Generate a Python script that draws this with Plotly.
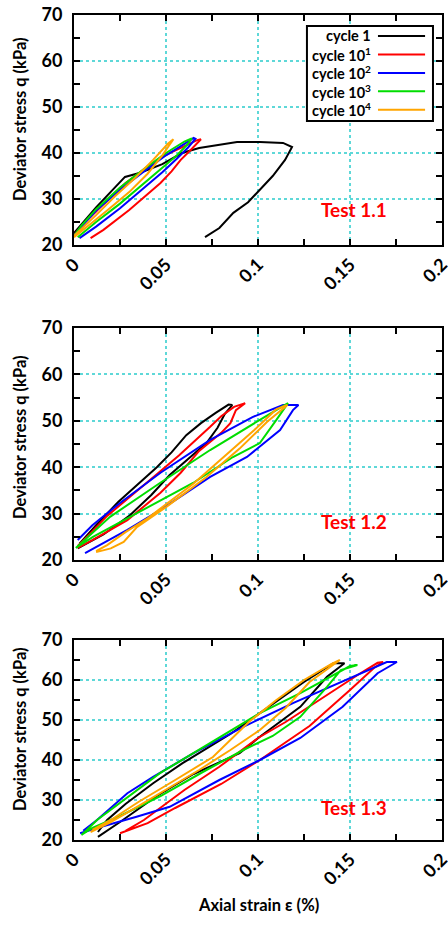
import plotly.graph_objects as go

# ---------------- data (axial strain %, deviator stress kPa) ----------------
cycle_names = ["cycle 1", "cycle 10<sup>1</sup>", "cycle 10<sup>2</sup>", "cycle 10<sup>3</sup>", "cycle 10<sup>4</sup>"]
cycle_colors = ["#000000", "#ff0000", "#0000ff", "#00dd00", "#ffa500"]
test_labels = ["Test 1.1", "Test 1.2", "Test 1.3"]
x_tick_vals = [0, 0.05, 0.1, 0.15, 0.2]
y_tick_vals = [20, 30, 40, 50, 60, 70]

# Test 1.1
t11_c1_x = [0.000, 0.012, 0.0277, 0.036, 0.048, 0.0587, 0.068, 0.078, 0.0886, 0.101, 0.1136, 0.1185, 0.1147, 0.108, 0.101, 0.0946, 0.0866, 0.079, 0.0712]
t11_c1_y = [22.6, 28.2, 34.8, 35.7, 37.6, 40.0, 41.1, 41.8, 42.4, 42.4, 42.2, 41.3, 38.5, 35.0, 32.0, 29.3, 27.0, 23.7, 21.7]
t11_c2_x = [0.009, 0.016, 0.030, 0.040, 0.047, 0.053, 0.058, 0.063, 0.067, 0.069, 0.067, 0.060, 0.050, 0.040, 0.028, 0.015, 0.005, 0.000]
t11_c2_y = [21.5, 23.3, 27.6, 31.0, 33.5, 36.0, 38.5, 40.5, 42.3, 43.0, 42.8, 41.5, 39.6, 37.0, 33.5, 28.5, 24.5, 22.2]
t11_c3_x = [0.003, 0.012, 0.025, 0.038, 0.048, 0.056, 0.062, 0.066, 0.065, 0.060, 0.050, 0.038, 0.025, 0.012, 0.004, 0.000]
t11_c3_y = [21.5, 24.0, 28.0, 32.5, 35.8, 38.8, 41.2, 43.1, 43.3, 42.0, 39.5, 36.0, 32.0, 27.5, 24.0, 22.0]
t11_c4_x = [0.002, 0.012, 0.025, 0.038, 0.048, 0.056, 0.062, 0.064, 0.060, 0.050, 0.038, 0.025, 0.012, 0.004, 0.000]
t11_c4_y = [21.7, 25.0, 29.0, 33.5, 36.8, 39.5, 42.0, 43.2, 42.5, 40.0, 36.5, 32.5, 27.8, 24.2, 22.0]
t11_c5_x = [0.000, 0.008, 0.018, 0.030, 0.040, 0.048, 0.054, 0.051, 0.043, 0.033, 0.022, 0.012, 0.004, 0.000]
t11_c5_y = [21.7, 24.2, 27.5, 31.5, 35.5, 39.5, 43.0, 42.0, 38.5, 34.5, 30.5, 26.5, 23.5, 22.0]

# Test 1.2
t12_c1_x = [0.002, 0.016, 0.030, 0.042, 0.052, 0.062, 0.072, 0.078, 0.082, 0.086, 0.084, 0.077, 0.069, 0.061, 0.053, 0.045, 0.035, 0.024, 0.012, 0.003]
t12_c1_y = [22.5, 25.5, 29.5, 34.0, 38.3, 41.8, 45.2, 48.5, 51.5, 53.4, 53.5, 51.7, 49.5, 46.9, 43.2, 40.0, 36.5, 32.5, 27.5, 23.5]
t12_c2_x = [0.002, 0.010, 0.029, 0.047, 0.058, 0.068, 0.080, 0.085, 0.088, 0.093, 0.087, 0.080, 0.074, 0.065, 0.057, 0.045, 0.030, 0.018, 0.009, 0.002]
t12_c2_y = [22.6, 24.3, 28.6, 34.5, 38.8, 43.5, 47.4, 49.5, 52.3, 53.8, 53.0, 51.0, 48.7, 45.5, 42.5, 38.5, 33.6, 29.5, 25.8, 23.0]
t12_c3_x = [0.006, 0.029, 0.047, 0.074, 0.094, 0.101, 0.112, 0.119, 0.122, 0.1136, 0.097, 0.074, 0.047, 0.025, 0.010, 0.002]
t12_c3_y = [21.5, 26.5, 30.8, 37.9, 42.2, 44.4, 48.0, 52.3, 53.4, 53.4, 50.8, 45.9, 38.8, 32.3, 27.5, 24.3]
t12_c4_x = [0.001, 0.0103, 0.0375, 0.0647, 0.0864, 0.101, 0.110, 0.1163, 0.101, 0.074, 0.0467, 0.0196, 0.001]
t12_c4_y = [22.6, 25.0, 30.8, 36.6, 42.2, 45.2, 50.2, 53.8, 50.2, 43.7, 36.6, 29.3, 22.6]
t12_c5_x = [0.012, 0.020, 0.027, 0.034, 0.050, 0.072, 0.090, 0.105, 0.116, 0.110, 0.098, 0.082, 0.065, 0.050, 0.040, 0.028, 0.018, 0.012]
t12_c5_y = [21.7, 22.5, 23.9, 27.0, 31.4, 37.9, 44.0, 49.8, 53.4, 52.5, 48.0, 42.5, 36.5, 32.0, 29.0, 26.0, 23.2, 21.9]

# Test 1.3
t13_c1_x = [0.013, 0.025, 0.045, 0.065, 0.090, 0.101, 0.123, 0.1375, 0.147, 0.141, 0.125, 0.105, 0.085, 0.059, 0.043, 0.028, 0.018, 0.013]
t13_c1_y = [20.8, 24.5, 31.0, 36.5, 41.7, 45.8, 53.3, 60.8, 64.2, 64.2, 59.5, 53.0, 46.5, 39.2, 34.2, 29.0, 25.0, 22.0]
t13_c2_x = [0.025, 0.040, 0.055, 0.080, 0.101, 0.128, 0.150, 0.163, 0.168, 0.165, 0.155, 0.135, 0.115, 0.100, 0.079, 0.060, 0.048, 0.038, 0.028]
t13_c2_y = [21.7, 24.2, 28.0, 34.0, 40.0, 48.5, 57.5, 63.0, 64.5, 64.3, 61.5, 55.5, 49.5, 45.5, 38.3, 32.5, 28.5, 25.0, 22.3]
t13_c3_x = [0.0033, 0.0125, 0.034, 0.052, 0.079, 0.101, 0.123, 0.146, 0.165, 0.1755, 0.170, 0.155, 0.135, 0.119, 0.092, 0.065, 0.043, 0.029, 0.0125, 0.005]
t13_c3_y = [21.7, 23.0, 25.8, 28.3, 35.0, 40.0, 45.5, 53.3, 61.7, 64.5, 64.5, 61.5, 57.5, 54.2, 48.3, 41.7, 35.8, 31.7, 25.0, 22.3]
t13_c4_x = [0.0043, 0.0125, 0.0467, 0.068, 0.101, 0.123, 0.150, 0.154, 0.145, 0.1375, 0.123, 0.108, 0.092, 0.070, 0.047, 0.025, 0.010, 0.004]
t13_c4_y = [21.3, 25.0, 36.7, 42.5, 51.7, 56.7, 63.5, 63.75, 62.5, 58.3, 50.8, 46.0, 42.5, 37.0, 31.0, 26.0, 23.0, 21.3]
t13_c5_x = [0.009, 0.020, 0.034, 0.050, 0.068, 0.085, 0.101, 0.115, 0.128, 0.1445, 0.140, 0.125, 0.110, 0.095, 0.0755, 0.055, 0.035, 0.020, 0.010]
t13_c5_y = [22.0, 24.5, 28.2, 32.5, 37.5, 42.5, 47.5, 53.0, 59.5, 65.0, 64.0, 60.0, 55.0, 49.5, 40.75, 35.0, 29.5, 25.0, 22.5]

panels = [
    [(t11_c1_x, t11_c1_y), (t11_c2_x, t11_c2_y), (t11_c3_x, t11_c3_y), (t11_c4_x, t11_c4_y), (t11_c5_x, t11_c5_y)],
    [(t12_c1_x, t12_c1_y), (t12_c2_x, t12_c2_y), (t12_c3_x, t12_c3_y), (t12_c4_x, t12_c4_y), (t12_c5_x, t12_c5_y)],
    [(t13_c1_x, t13_c1_y), (t13_c2_x, t13_c2_y), (t13_c3_x, t13_c3_y), (t13_c4_x, t13_c4_y), (t13_c5_x, t13_c5_y)],
]
test_label_pos = [(0.152, 27.8), (0.152, 28.2), (0.152, 28.0)]

# ---------------- figure ----------------
W, H = 448, 925
FONT = "Lato"
y_domains = [[0.7351, 0.9838], [0.3946, 0.6454], [0.0919, 0.3081]]
x_domain = [0.1652, 0.9866]
GRID = "#5ed8d8"

fig = go.Figure()
for p, series in enumerate(panels):
    ax = "" if p == 0 else str(p + 1)
    for k, (xs, ys) in enumerate(series):
        fig.add_trace(go.Scatter(
            x=xs, y=ys, mode="lines", name=cycle_names[k],
            line=dict(color=cycle_colors[k], width=2),
            xaxis="x" + ax, yaxis="y" + ax, showlegend=False,
        ))

layout = dict(
    width=W, height=H, margin=dict(l=0, r=0, t=0, b=0),
    paper_bgcolor="white", plot_bgcolor="white",
    font=dict(family=FONT, color="black"),
    showlegend=False,
)
for p in range(3):
    ax = "" if p == 0 else str(p + 1)
    xa = dict(
        domain=x_domain, anchor="y" + ax, range=[0, 0.2],
        tickmode="array", tickvals=x_tick_vals, ticktext=[("%g" % v) for v in x_tick_vals],
        ticks="inside", ticklen=6, tickwidth=1.5, tickcolor="black",
        minor=dict(dtick=0.025, tick0=0, ticks="inside", ticklen=6, tickwidth=1.5, tickcolor="black", showgrid=False),
        showline=True, linewidth=2, linecolor="black", mirror="ticks",
        showgrid=True, gridcolor=GRID, gridwidth=2, griddash="dot",
        zeroline=False, tickangle=-45, automargin=False, ticklabeloverflow="allow",
        tickfont=dict(family=FONT, size=18, weight="bold"),
    )
    ya = dict(
        domain=y_domains[p], anchor="x" + ax, range=[20, 70],
        tickmode="array", tickvals=y_tick_vals,
        ticks="inside", ticklen=6, tickwidth=1.5, tickcolor="black",
        minor=dict(dtick=5, tick0=20, ticks="inside", ticklen=6, tickwidth=1.5, tickcolor="black", showgrid=False),
        showline=True, linewidth=2, linecolor="black", mirror="ticks",
        showgrid=True, gridcolor=GRID, gridwidth=2, griddash="dot",
        zeroline=False, automargin=False, ticklabelstandoff=6, ticklabeloverflow="allow",
        tickfont=dict(family=FONT, size=18, weight="bold"),
    )
    layout["xaxis" + ax] = xa
    layout["yaxis" + ax] = ya
fig.update_layout(**layout)

# axis titles
title_y_px = [119, 437, 729]
for p in range(3):
    fig.add_annotation(x=20 / W, y=1 - title_y_px[p] / H, xref="paper", yref="paper",
                       text="Deviator stress q (kPa)", textangle=-90, showarrow=False,
                       xanchor="center", yanchor="middle",
                       font=dict(family=FONT, size=16.5, weight="bold"))
fig.add_annotation(x=258 / W, y=1 - 905 / H, xref="paper", yref="paper",
                   text="Axial strain ε (%)", showarrow=False, xanchor="center", yanchor="middle",
                   font=dict(family=FONT, size=16.5, weight="bold"))

# test labels
for p in range(3):
    ax = "" if p == 0 else str(p + 1)
    fig.add_annotation(x=test_label_pos[p][0], y=test_label_pos[p][1], xref="x" + ax, yref="y" + ax,
                       text=test_labels[p], showarrow=False,
                       font=dict(family=FONT, size=19, color="#ff0000", weight="bold"))

# legend box (panel 1)
fig.add_shape(type="rect", xref="x domain", yref="y domain", x0=0.633, x1=0.9755, y0=0.539, y1=0.952,
              line=dict(color="black", width=2), fillcolor="white", layer="above")
leg_y = [0.909, 0.828, 0.748, 0.668, 0.588]
for k in range(5):
    fig.add_annotation(x=0.8125, y=leg_y[k], xref="x domain", yref="y domain", xanchor="right", yanchor="middle",
                       text=cycle_names[k], showarrow=False,
                       font=dict(family=FONT, size=14.5, weight="bold"))
    fig.add_shape(type="line", xref="x domain", yref="y domain", x0=0.826, x1=0.954, y0=leg_y[k], y1=leg_y[k],
                  line=dict(color=cycle_colors[k], width=2), layer="above")

fig.write_html("out.html", config={"displayModeBar": False},
               post_script="document.body.style.margin='0px';")
